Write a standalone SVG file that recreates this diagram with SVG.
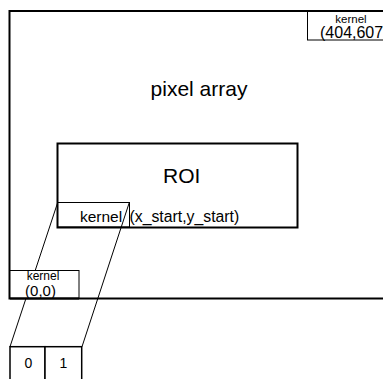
<svg xmlns="http://www.w3.org/2000/svg" width="383" height="379" viewBox="0 0 383 379">
<style>
text{font-family:"Liberation Sans",Arial,sans-serif;fill:#000}
.thick{fill:none;stroke:#000;stroke-width:2}
.thin{fill:#fff;stroke:#000;stroke-width:1}
.thinnf{fill:none;stroke:#000;stroke-width:1}
.conn{stroke:#000;stroke-width:1;fill:none}
</style>
<rect width="383" height="379" fill="#fff"/>
<g id="pixel-array">
<rect class="thick" x="9.5" y="11" width="400" height="287.5"/>
<text x="199" y="96" font-size="21" text-anchor="middle">pixel array</text>
</g>
<g id="kernel-max">
<rect class="thin" x="307.5" y="11.5" width="90" height="28.5"/>
<text x="351" y="22.5" font-size="11.5" text-anchor="middle">kernel</text>
<text x="320" y="38" font-size="16">(404,607)</text>
</g>
<g id="roi">
<rect class="thick" x="57.5" y="143.5" width="240" height="84"/>
<text x="181.7" y="183" font-size="21" text-anchor="middle">ROI</text>
</g>
<g id="kernel-roi">
<rect class="thinnf" x="57.5" y="202.5" width="72" height="24.5"/>
<text x="101" y="222" font-size="15.5" text-anchor="middle">kernel</text>
<text x="129.5" y="222" font-size="15.8">(x_start,y_start)</text>
</g>
<g id="connectors">
<line class="conn" x1="57.7" y1="202.5" x2="10" y2="346.7"/>
<line class="conn" x1="129.3" y1="202.5" x2="82" y2="346.7"/>
</g>
<g id="kernel-origin">
<rect class="thin" x="10" y="270.5" width="69" height="27.5"/>
<line x1="10" y1="298.5" x2="79" y2="298.5" stroke="#000" stroke-width="2"/>
<text x="43" y="280" font-size="12" text-anchor="middle">kernel</text>
<text x="40.5" y="296" font-size="15" text-anchor="middle">(0,0)</text>
</g>
<g id="cells">
<rect x="10" y="346.7" width="35" height="40" fill="#fff" stroke="#000" stroke-width="1.5"/>
<rect x="45" y="346.7" width="36.7" height="40" fill="#fff" stroke="#000" stroke-width="1.5"/>
<text x="28.5" y="368" font-size="14" text-anchor="middle">0</text>
<text x="63.5" y="368" font-size="14" text-anchor="middle">1</text>
</g>
</svg>
